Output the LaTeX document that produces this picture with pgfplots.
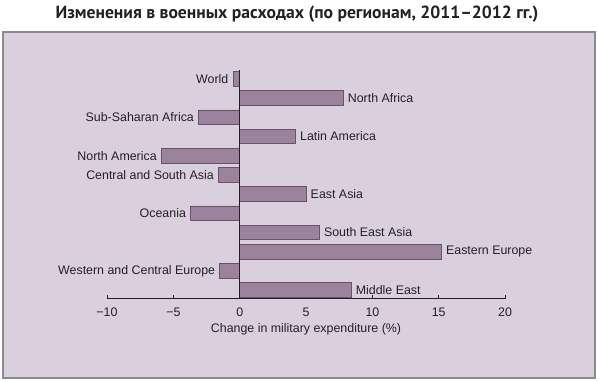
\documentclass[border=0pt]{standalone}
\usepackage{fontspec}
\setmainfont{Liberation Sans}
\newfontfamily\titlefont{PT Sans}
\usepackage{pgfplots}
\usepackage{pgfplotstable}
\pgfplotsset{compat=1.18}
\definecolor{panel}{RGB}{218,208,221}
\definecolor{barfill}{RGB}{156,131,157}
\definecolor{bardraw}{RGB}{105,82,108}
\definecolor{frame}{RGB}{140,138,142}
\definecolor{txt}{RGB}{35,32,36}

\pgfplotstableread[col sep=comma]{
pos,val,name
11,-0.5,World
9,-3.1,Sub-Saharan Africa
7,-5.9,North America
6,-1.6,Central and South Asia
4,-3.7,Oceania
1,-1.5,Western and Central Europe
}\negdata

\pgfplotstableread[col sep=comma]{
pos,val,name
10,7.8,North Africa
8,4.2,Latin America
5,5.0,East Asia
3,6.0,South East Asia
2,15.2,Eastern Europe
0,8.4,Middle East
}\posdata

\begin{document}
\begin{tikzpicture}
\path[use as bounding box] (0pt,0pt) rectangle (598pt,-381pt);
\draw[frame, line width=1.4pt, fill=panel] (3pt,-32pt) rectangle (595pt,-378pt);
\node[txt, font=\titlefont\bfseries\fontsize{17.6}{20}\selectfont] at (297pt,-14pt) {Изменения в военных расходах (по регионам, 2011–2012 гг.)};
\begin{axis}[
  anchor=origin, at={(239.7pt,-290pt)},
  x=13.27pt, y=19.2pt,
  xmin=-10, xmax=20, ymin=-0.45, ymax=11.45,
  axis x line*=bottom, axis y line=none,
  axis line style={txt, line width=0.8pt, -},
  xtick={-10,-5,0,5,10,15,20},
  xticklabels={−10,−5,0,5,10,15,20},
  tick align=inside, major tick length=4pt,
  tick style={txt, line width=0.8pt},
  ticklabel style={font=\fontsize{12.4}{14}\selectfont, text=txt},
  xticklabel style={yshift=-6pt},
  xlabel={Change in military expenditure (\%)},
  xlabel style={font=\fontsize{12.4}{14}\selectfont, text=txt, yshift=0pt},
  xbar, bar width=14.5pt, bar shift=0pt,
  clip=false,
]
\addplot[xbar, fill=barfill, draw=bardraw, line width=0.7pt,
  point meta=explicit symbolic, nodes near coords,
  every node near coord/.append style={anchor=east, font=\fontsize{12.4}{14}\selectfont, text=txt, xshift=-1pt}]
  table[x=val, y=pos, meta=name] {\negdata};
\addplot[xbar, fill=barfill, draw=bardraw, line width=0.7pt,
  point meta=explicit symbolic, nodes near coords,
  every node near coord/.append style={anchor=west, font=\fontsize{12.4}{14}\selectfont, text=txt, xshift=1pt}]
  table[x=val, y=pos, meta=name] {\posdata};
\draw[txt, line width=0.8pt] (axis cs:0,-0.45) -- (axis cs:0,11.45);
\end{axis}
\end{tikzpicture}
\end{document}
